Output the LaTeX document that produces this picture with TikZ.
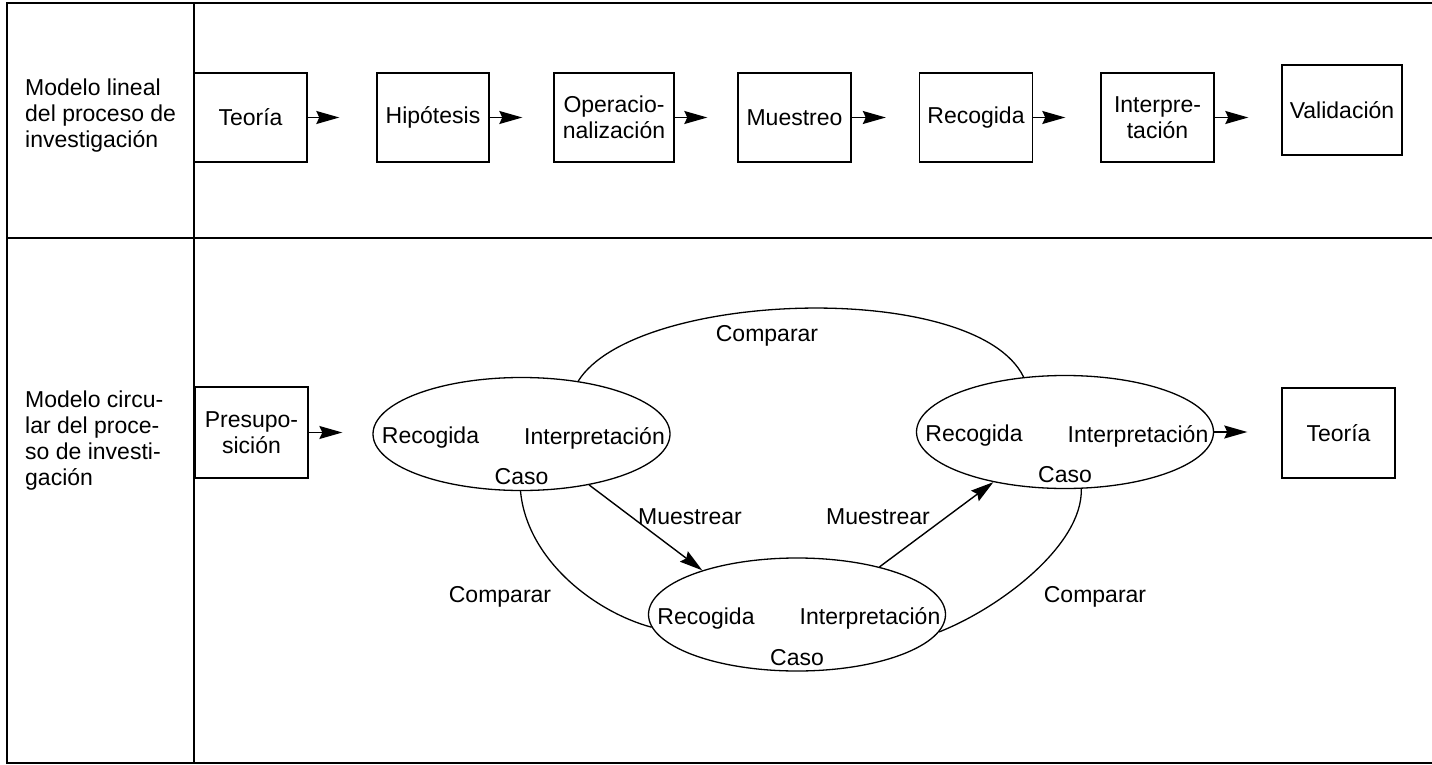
\documentclass[tikz,border=0pt]{standalone}
\usepackage{fontspec}
\setmainfont{Liberation Sans}
\usetikzlibrary{shapes.geometric,arrows.meta,calc}
\begin{document}
\begin{tikzpicture}[x=1pt,y=-1pt,
  every node/.style={font=\fontsize{23}{26}\selectfont},
  frame/.style={line width=2pt},
  box/.style={draw,line width=1.4pt,minimum height=89pt,inner sep=0pt,align=center},
  ell/.style={draw,ellipse,line width=1.3pt,minimum width=297pt,minimum height=113pt,inner sep=0pt},
  lbl/.style={inner sep=0pt},
  arr/.style={line width=1.4pt,-{Stealth[length=23pt,width=13pt,inset=3pt]}},
  link/.style={line width=1.3pt}
]
\useasboundingbox (0,0) rectangle (1432,765);
% frame
\coordinate (fTR) at (1432,3);
\coordinate (fTL) at (7,3);
\coordinate (fBL) at (7,763);
\coordinate (fBR) at (1432,763);
\coordinate (fML) at (7,238);
\coordinate (fMR) at (1432,238);
\coordinate (fDT) at (193.5,3);
\coordinate (fDB) at (193.5,763);
\draw[frame] (fTR) -- (fTL) -- (fBL) -- (fBR);
\draw[frame] (fML) -- (fMR);
\draw[frame] (fDT) -- (fDB);

% row labels
\node[lbl,anchor=west,align=left] (lab1) at (25,116) {Modelo lineal\\del proceso de\\investigación};
\node[lbl,anchor=west,align=left] (lab2) at (25,441) {Modelo circu-\\lar del proce-\\so de investi-\\gación};

% linear model
\node[box,minimum width=113pt] (t1) at (250.5,117.5) {Teoría};
\node[box,minimum width=112pt] (t2) at (433,117.5) {Hipótesis};
\node[box,minimum width=120pt] (t3) at (614,117.5) {Operacio-\\nalización};
\node[box,minimum width=113pt] (t4) at (794.5,117.5) {Muestreo};
\node[box,minimum width=113pt] (t5) at (976,117.5) {Recogida};
\node[box,minimum width=113pt] (t6) at (1157.5,117.5) {Interpre-\\tación};
\node[box,minimum width=120pt,minimum height=90pt] (t7) at (1342,110) {Validación};

\draw[arr,shorten >=37pt] (t1.east) -- (t1.east -| t2.west);
\draw[arr,shorten >=31pt] (t2.east) -- (t2.east -| t3.west);
\draw[arr,shorten >=30pt] (t3.east) -- (t3.east -| t4.west);
\draw[arr,shorten >=33pt] (t4.east) -- (t4.east -| t5.west);
\draw[arr,shorten >=35pt] (t5.east) -- (t5.east -| t6.west);
\draw[arr,shorten >=33pt] (t6.east) -- (t6.east -| t7.west);

% circular model
\node[box,minimum width=113pt,minimum height=91pt] (p) at (251.5,432.5) {Presupo-\\sición};
\node[box,minimum width=113pt,minimum height=90pt] (tb) at (1338.5,433) {Teoría};

\node[ell] (e1) at (521.5,434) {};
\node[ell] (e2) at (1065,432) {};
\node[ell] (e3) at (797,614.5) {};

\foreach \e in {e1,e2,e3}{
  \node[lbl] (\e r) at ($(\e)+(-91,4)$) {Recogida};
  \node[lbl] (\e i) at ($(\e)+(73,4)$) {Interpretación};
  \node[lbl] (\e c) at ($(\e)+(0,43)$) {Caso};
}

\draw[arr,shorten >=30pt] (p.east) -- (p.east -| e1.west);
\draw[arr,shorten >=34pt] (e2.east) -- (e2.east -| tb.west);

\draw[arr] (e1.-37) -- (e3.155);
\draw[arr] (e3.30) -- (e2.215);

\draw[link] (e1.43) .. controls (635,290) and (976,279) .. (e2.127);
\draw[link] (e1.269) .. controls (527,560) and (595,612) .. (e3.185);
\draw[link] (e3.-7) .. controls (1000,608) and (1083,545) .. (e2.-74);

\node[lbl] (cmp1) at (767,336) {Comparar};
\node[lbl] (cmp2) at (500,597) {Comparar};
\node[lbl] (cmp3) at (1095,597) {Comparar};
\node[lbl] (m1) at (690,517) {Muestrear};
\node[lbl] (m2) at (878,517) {Muestrear};
\end{tikzpicture}
\end{document}
